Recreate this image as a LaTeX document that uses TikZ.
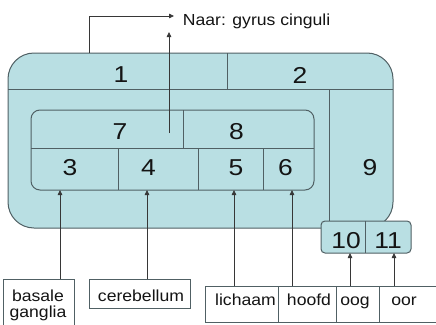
\documentclass[tikz,border=0pt]{standalone}
\usepackage{fontspec}
\setmainfont{Liberation Sans}
\newfontfamily\numfont[FakeStretch=1.15]{Liberation Sans}
\newfontfamily\txtfont[FakeStretch=1.1]{Liberation Sans}
\usetikzlibrary{arrows.meta}
\definecolor{fillc}{RGB}{185,223,227}
\definecolor{edgec}{RGB}{80,96,100}
\definecolor{inkc}{RGB}{20,20,20}
\begin{document}
\begin{tikzpicture}[x=1pt,y=-1pt,
  region/.style={draw=edgec, line width=1pt, fill=fillc},
  divider/.style={draw=edgec, line width=1pt},
  num/.style={font=\numfont\fontsize{23}{23}\selectfont, text=inkc, inner sep=0pt},
  lbl/.style={font=\txtfont\fontsize{16}{15.5}\selectfont, text=inkc, inner sep=0pt, anchor=base},
  box/.style={draw=edgec, line width=1pt, fill=white, inner sep=0pt, anchor=north west},
  conn/.style={draw=inkc!85, line width=0.8pt, -{Triangle[length=5pt,width=4.5pt]}}]
\useasboundingbox (0,0) rectangle (436,324);
\clip (0,0) rectangle (436,324);
\fill[white] (0,0) rectangle (436,324);
% outer region
\path[region, rounded corners=26pt] (8,53) rectangle (393,228);
\draw[divider] (8,89) -- (393,89);
\draw[divider] (227,53) -- (227,89);
\draw[divider] (329,89) -- (329,221);
% inner region
\path[region, rounded corners=9pt] (31,110) rectangle (314,190);
\draw[divider] (31,148) -- (314,148);
\draw[divider] (183,110) -- (183,148);
\draw[divider] (118,148) -- (118,190);
\draw[divider] (198,148) -- (198,190);
\draw[divider] (263,148) -- (263,190);
% box 10/11
\path[region, rounded corners=4pt] (321,221) rectangle (411,253);
\draw[divider] (365,221) -- (365,253);
% numbers
\node[num] (n1) at (121,75) {1};
\node[num] (n2) at (300,75) {2};
\node[num] (n7) at (120,132) {7};
\node[num] (n8) at (236.5,132) {8};
\node[num] (n3) at (70,168) {3};
\node[num] (n4) at (148.5,168) {4};
\node[num] (n5) at (236,168) {5};
\node[num] (n6) at (285.5,168) {6};
\node[num] (n9) at (370,168) {9};
\node[num] (n10) at (346,241) {10};
\node[num] (n11) at (388,241) {11};
% bottom boxes
\node[box, minimum width=71pt, minimum height=52pt] (bg) at (3,279) {};
\node[lbl] (bgt1) at (38,301.7) {basale};
\node[lbl] (bgt2) at (38,317.2) {ganglia};
\node[box, minimum width=101pt, minimum height=29pt] (cb) at (89,279) {};
\node[lbl] (cbt) at (141,301.7) {cerebellum};
\node[box, minimum width=73pt, minimum height=36pt] (li) at (205,286) {};
\node[box, minimum width=58pt, minimum height=36pt] (ho) at (278,286) {};
\node[box, minimum width=43pt, minimum height=36pt] (oo) at (336,286) {};
\node[box, minimum width=66pt, minimum height=36pt] (or) at (379,286) {};
\node[lbl] (lit) at (245.5,305) {lichaam};
\node[lbl] (hot) at (309,305) {hoofd};
\node[lbl] (oot) at (355,305) {oog};
\node[lbl] (ort) at (404,305) {oor};
% top label
\node[lbl, anchor=base west] (naar) at (182.7,25) {Naar: gyrus cinguli};
% connectors
\coordinate (a3) at (60,190);
\coordinate (a4) at (147,190);
\coordinate (a5) at (234,190);
\coordinate (a6) at (292,190);
\coordinate (a10) at (350,253);
\coordinate (a11) at (394,253);
\draw[conn] (bg.north -| a3) -- (a3);
\draw[conn] (cb.north -| a4) -- (a4);
\draw[conn] (li.north -| a5) -- (a5);
\draw[conn] (ho.north -| a6) -- (a6);
\draw[conn] (oo.north -| a10) -- (a10);
\draw[conn] (or.north -| a11) -- (a11);
\coordinate (s7) at (169,133);
\coordinate (t7) at (169,32);
\draw[conn] (s7) -- (t7);
\coordinate (s1) at (89,53);
\coordinate (t1) at (174,16);
\draw[conn] (s1) |- (t1);
\end{tikzpicture}
\end{document}
